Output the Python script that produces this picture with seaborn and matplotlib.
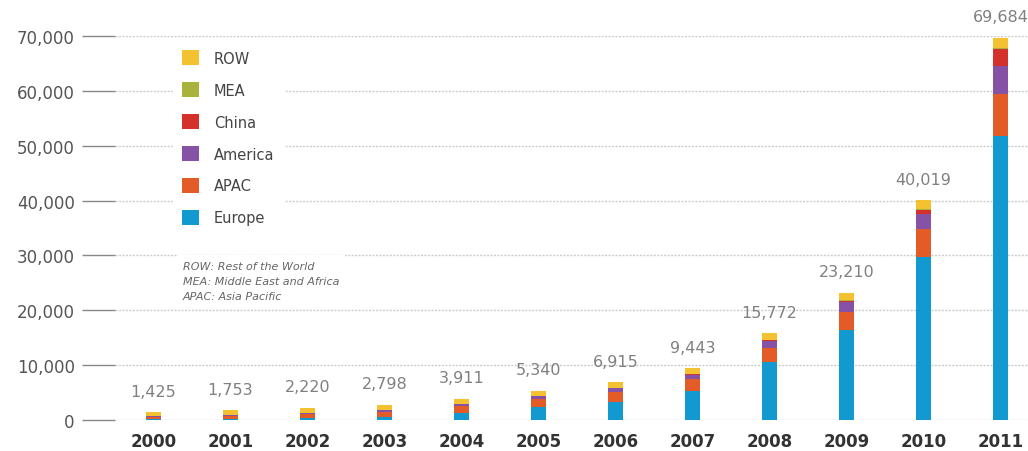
import matplotlib
matplotlib.use("Agg")
import matplotlib.pyplot as plt
from matplotlib.patches import Patch
from matplotlib.ticker import FuncFormatter
import seaborn as sns
import pandas as pd
import numpy as np

years = ["2000", "2001", "2002", "2003", "2004", "2005", "2006", "2007", "2008", "2009", "2010", "2011"]
europe = [129, 262, 400, 601, 1305, 2289, 3289, 5310, 10554, 16356, 29780, 51716]
apac = [368, 496, 686, 916, 1198, 1502, 1827, 2098, 2628, 3373, 4951, 7769]
america = [146, 177, 222, 287, 379, 496, 645, 856, 1205, 1744, 2820, 5053]
china = [19, 24, 42, 52, 62, 70, 80, 100, 140, 300, 800, 3093]
mea = [0, 0, 0, 0, 1, 1, 1, 2, 2, 25, 80, 205]
row = [763, 794, 870, 942, 966, 982, 1073, 1077, 1243, 1412, 1588, 1848]
totals = [1425, 1753, 2220, 2798, 3911, 5340, 6915, 9443, 15772, 23210, 40019, 69684]
y_ticks = [0, 10000, 20000, 30000, 40000, 50000, 60000, 70000]
footnote = ["ROW: Rest of the World", "MEA: Middle East and Africa", "APAC: Asia Pacific"]

series = [("Europe", europe, "#1299cf"),
          ("APAC", apac, "#e35b26"),
          ("America", america, "#8652a6"),
          ("China", china, "#d5312b"),
          ("MEA", mea, "#a9b23b"),
          ("ROW", row, "#f4c230")]

sns.set_style("white")
plt.rcParams["font.family"] = ["DejaVu Sans"]

W, H = 1028, 452
fig = plt.figure(figsize=(W / 100, H / 100), dpi=100)
ax = fig.add_axes([115 / W, 1 - 421 / H, (W - 115) / W, 384 / H])

bottom = np.zeros(len(years))
for name, vals, col in series:
    df = pd.DataFrame({"year": years, "value": vals})
    sns.barplot(data=df, x="year", y="value", order=years, color=col,
                bottom=bottom, width=0.19, ax=ax, saturation=1,
                linewidth=0, edgecolor=col, zorder=3)
    bottom = bottom + np.array(vals, dtype=float)

ax.set_xlim(-0.5, (W - 153.5) / 77)
ax.set_ylim(0, 70000)
ax.set_yticks(y_ticks)
ax.yaxis.set_major_formatter(FuncFormatter(lambda v, p: f"{int(v):,}"))
ax.grid(axis="y", color="#cccccc", linestyle=(0, (1.5, 1)), linewidth=1, zorder=0)
ax.grid(axis="x", visible=False)
for s in ax.spines.values():
    s.set_visible(False)
ax.set_xlabel("")
ax.set_ylabel("")
ax.tick_params(axis="y", left=True, length=24, width=1, color="#888888", pad=5,
               labelsize=12, labelcolor="#555555")
ax.tick_params(axis="x", bottom=False, length=0, pad=9, labelsize=12, labelcolor="#333333")
for lab in ax.get_xticklabels():
    lab.set_fontweight("bold")

for i, t in enumerate(totals):
    ax.annotate(f"{t:,}", xy=(i, t), xytext=(0, 15), textcoords="offset points",
                ha="center", va="center", fontsize=11.5, color="#808080",
                annotation_clip=False)

handles = [Patch(facecolor=c, edgecolor="none", label=n) for n, v, c in series[::-1]]
leg = ax.legend(handles=handles, loc="upper left",
                bbox_to_anchor=(173 / W, 1 - 42 / H), bbox_transform=fig.transFigure,
                frameon=True, fancybox=False, framealpha=1, edgecolor="white",
                facecolor="white", fontsize=10.5, handlelength=1.15, handleheight=1.15,
                labelspacing=1.15, handletextpad=1.0, borderpad=0.65, borderaxespad=0)
for t in leg.get_texts():
    t.set_color("#444444")
leg.set_zorder(5)

fig.text(183 / W, 1 - 262 / H, "\n".join(footnote), ha="left", va="top",
         fontsize=8, style="italic", color="#666666", linespacing=1.6,
         bbox=dict(facecolor="white", edgecolor="none", pad=4), zorder=6)

fig.savefig("out.png", dpi=100, facecolor="white")
